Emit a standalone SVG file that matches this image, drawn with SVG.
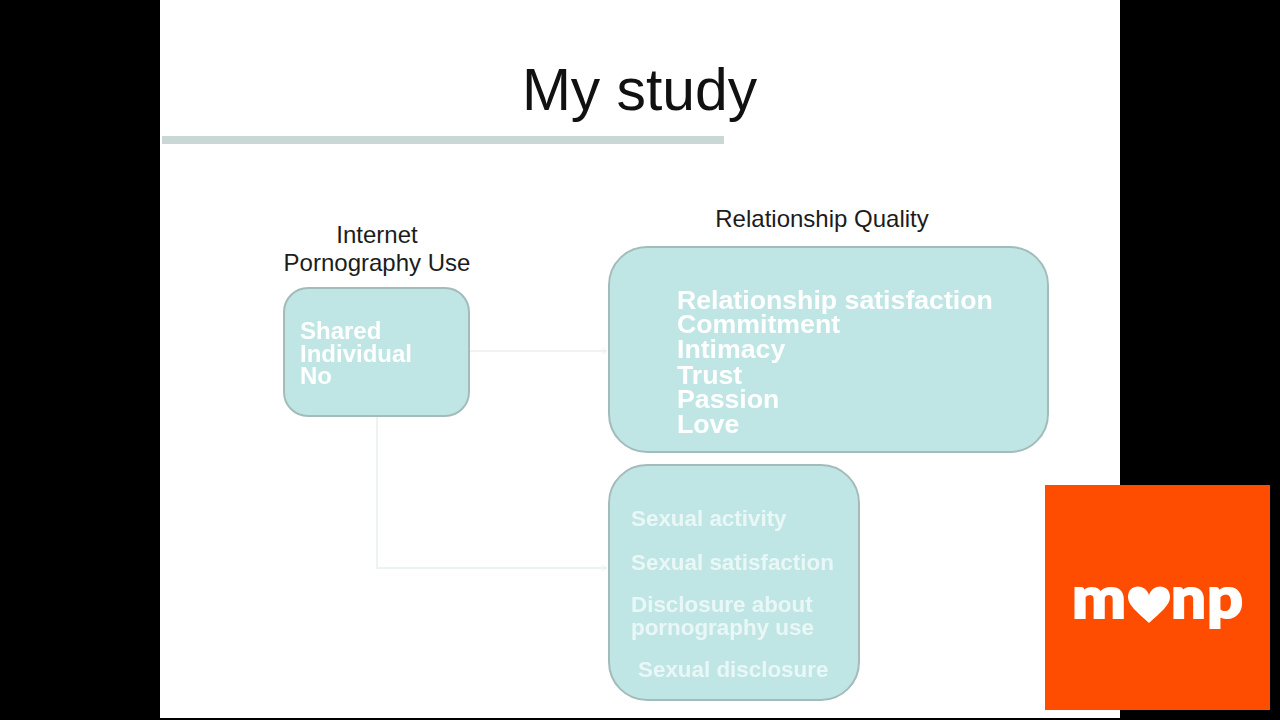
<svg xmlns="http://www.w3.org/2000/svg" width="1280" height="720" viewBox="0 0 1280 720">
<defs>
<marker id="arr" markerWidth="6" markerHeight="6" refX="5" refY="3" orient="auto" markerUnits="userSpaceOnUse"><path d="M0 0L5 3L0 6" fill="none" stroke="#eef2f0" stroke-width="1"/></marker>
<filter id="soft" x="-5%" y="-20%" width="110%" height="140%"><feGaussianBlur stdDeviation="0.7"/></filter>
</defs>
<style>
text{font-family:"Liberation Sans",Arial,sans-serif}
.box{fill:#bfe6e5;stroke:#a3bcbb;stroke-width:2}
.lbl{fill:#1c1c1c;font-size:24px;text-anchor:middle}
.in{fill:#fff;font-weight:bold}
.big{font-size:26.7px}
.mid{font-size:24px}
.sm{font-size:22.4px;fill:#e9f7f6}
.conn{fill:none;stroke:#eef2f0;stroke-width:2}
.logo{fill:#fff;stroke:#fff;stroke-width:2;font-family:"Lato","Noto Sans",sans-serif;font-weight:900;font-size:58px}
</style>
<rect width="1280" height="720" fill="#000"/>
<rect id="slide" x="160" y="0" width="960" height="718" fill="#fff"/>
<g id="title"><text x="639.500" y="110" font-size="58.800" fill="#111" text-anchor="middle">My study</text>
<rect x="162" y="136" width="562" height="8" fill="#c9d8d5"/></g>
<g id="connectors">
<path class="conn" d="M470 351H607" marker-end="url(#arr)"/>
<path class="conn" d="M377 417V568H607" marker-end="url(#arr)"/>
</g>
<g id="node-use">
<text class="lbl" x="377" y="243">Internet</text>
<text class="lbl" x="377" y="271">Pornography Use</text>
<rect class="box" x="284" y="288" width="185" height="128" rx="24"/>
<g filter="url(#soft)"><text class="in mid" x="300" y="339">Shared</text>
<text class="in mid" x="300" y="362">Individual</text>
<text class="in mid" x="300" y="384">No</text></g>
</g>
<g id="node-quality">
<text class="lbl" x="822" y="227">Relationship Quality</text>
<rect class="box" x="609" y="247" width="439" height="205" rx="38"/>
<g filter="url(#soft)"><text class="in big" x="677" y="309">Relationship satisfaction</text>
<text class="in big" x="677" y="333">Commitment</text>
<text class="in big" x="677" y="358">Intimacy</text>
<text class="in big" x="677" y="384">Trust</text>
<text class="in big" x="677" y="408">Passion</text>
<text class="in big" x="677" y="433">Love</text></g>
</g>
<g id="node-sexual">
<rect class="box" x="609" y="465" width="250" height="235" rx="38"/>
<g filter="url(#soft)"><text class="in sm" x="631" y="526">Sexual activity</text>
<text class="in sm" x="631" y="570">Sexual satisfaction</text>
<text class="in sm" x="631" y="612">Disclosure about</text>
<text class="in sm" x="631" y="635">pornography use</text>
<text class="in sm" x="638" y="677">Sexual disclosure</text></g>
</g>
<g id="logo">
<rect x="1045" y="485" width="225" height="225" fill="#ff4d00"/>
<text class="logo" x="1072" y="618" textLength="54" lengthAdjust="spacingAndGlyphs">m</text>
<path d="M1149 623C1137 612 1128 605 1128 597C1128 584 1145 583 1149 595C1153 583 1170 584 1170 597C1170 605 1161 612 1149 623Z" fill="#fff"/>
<text class="logo" x="1171" y="618" textLength="35" lengthAdjust="spacingAndGlyphs">n</text>
<text class="logo" x="1207" y="618" textLength="36" lengthAdjust="spacingAndGlyphs">p</text>
</g>
</svg>
